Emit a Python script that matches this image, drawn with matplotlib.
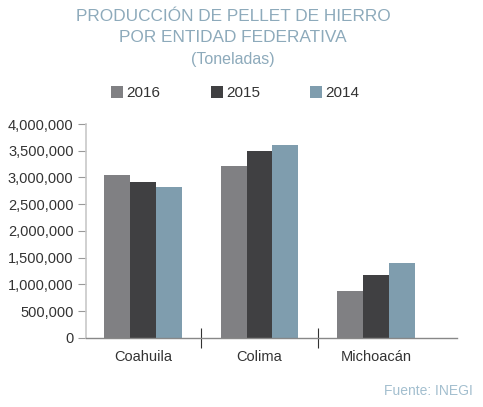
import numpy as np
import matplotlib.pyplot as plt
from matplotlib.patches import Patch

plt.rcParams['font.family'] = ['Liberation Sans', 'DejaVu Sans']

estados = ['Coahuila', 'Colima', 'Michoacán']
anios = ['2016', '2015', '2014']
v2016 = [3050000, 3215000, 875000]
v2015 = [2915000, 3495000, 1175000]
v2014 = [2820000, 3605000, 1400000]
colores = ['#808083', '#404042', '#7f9dae']
yticks = [0, 500000, 1000000, 1500000, 2000000, 2500000, 3000000, 3500000, 4000000]

fig = plt.figure(figsize=(4.83, 4.07), dpi=100)
ax = fig.add_axes([0.178, 0.170, 0.768, 0.5253])

x = np.arange(len(estados))
w = 0.223
for i, (vals, c) in enumerate(zip([v2016, v2015, v2014], colores)):
    ax.bar(x + (i - 1) * w, vals, width=w, color=c, label=anios[i])

ax.set_xlim(-0.49, 2.695)
ax.set_ylim(0, 4000000)
ax.set_yticks(yticks)
ax.set_yticklabels([f'{v:,}' for v in yticks])
ax.set_xticks(x)
ax.set_xticklabels(estados)
ax.set_xticks([0.5, 1.5], minor=True)
ax.tick_params(axis='x', which='major', length=0, pad=9, labelsize=10.5, labelcolor='#333333')
ax.tick_params(axis='x', which='minor', length=15, direction='inout', color='#333333', width=0.8)
ax.tick_params(axis='y', length=6, color='#999999', labelsize=10.5, labelcolor='#333333', pad=3)

for s in ['top', 'right']:
    ax.spines[s].set_visible(False)
ax.spines['left'].set_color('#c8c8c8')
ax.spines['left'].set_linewidth(1.2)
ax.spines['bottom'].set_color('#888888')
ax.spines['bottom'].set_linewidth(1.0)

tc = '#8daabb'
fig.text(0.483, 0.960, 'PRODUCCIÓN DE PELLET DE HIERRO', ha='center', va='center', fontsize=12.4, color=tc)
fig.text(0.483, 0.907, 'POR ENTIDAD FEDERATIVA', ha='center', va='center', fontsize=12.4, color=tc)
fig.text(0.483, 0.855, '(Toneladas)', ha='center', va='center', fontsize=11.5, color=tc)

handles = [Patch(facecolor=c, edgecolor='none') for c in colores]
fig.legend(handles, anios, loc='center', bbox_to_anchor=(0.487, 0.771), ncol=3, frameon=False,
           fontsize=11, handlelength=0.8, handleheight=0.8, handletextpad=0.2, columnspacing=3.3,
           labelcolor='#333333')

fig.text(0.979, 0.040, 'Fuente: INEGI', ha='right', va='center', fontsize=10, color='#a3bfcf')

fig.savefig('out.png', dpi=100)
